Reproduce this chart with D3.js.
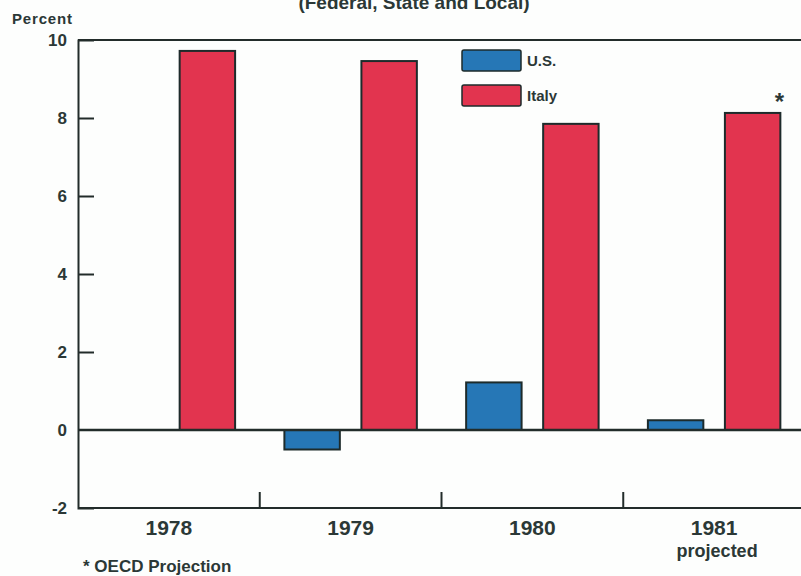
<!DOCTYPE html>
<html>
<head>
<meta charset="utf-8">
<script src="https://cdn.jsdelivr.net/npm/d3@7"></script>
<style>
  body { margin: 0; background: #fdfefd; }
  svg { display: block; }
  .tick-label { font-family: "Liberation Sans", Arial, sans-serif; font-weight: bold; fill: #2b3836; }
  .narrow { font-family: "Liberation Sans Narrow", "Liberation Sans", sans-serif; font-weight: bold; fill: #2b3836; }
</style>
</head>
<body>
<script>
// data
var years = ["1978", "1979", "1980", "1981"];
var seriesNames = ["U.S.", "Italy"];
var usValues = [null, -0.5, 1.22, 0.25];
var italyValues = [9.72, 9.46, 7.85, 8.13];
var yTicks = [-2, 0, 2, 4, 6, 8, 10];
var colors = ["#2677b6", "#e2344f"];

var width = 801,
    height = 576,
    margin = {top: 40, right: -4, bottom: 68, left: 78};

var svg = d3.select("body").append("svg")
    .attr("width", width)
    .attr("height", height);

var x0 = d3.scaleBand()
    .domain(years)
    .range([margin.left, width - margin.right]);

var x1 = d3.scaleBand()
    .domain(seriesNames)
    .range([0, x0.bandwidth()])
    .paddingInner(0.28)
    .paddingOuter(0.32);

var y = d3.scaleLinear()
    .domain([-2, 10])
    .range([height - margin.bottom, margin.top]);

var rows = years.map(function(yr, i) {
  return {year: yr, values: [usValues[i], italyValues[i]]};
});

// title, cut off at the top of the picture
svg.append("text")
    .attr("class", "tick-label")
    .attr("x", 414)
    .attr("y", 9)
    .attr("text-anchor", "middle")
    .style("font-size", "19px")
    .text("(Federal, State and Local)");

svg.append("text")
    .attr("class", "tick-label")
    .attr("x", 12)
    .attr("y", 24)
    .style("font-size", "15px")
    .attr("textLength", 60)
    .text("Percent");

// frame: top and bottom
var frame = svg.append("g")
    .style("stroke", "#222c2a")
    .style("stroke-width", 2);
frame.append("line")
    .attr("x1", margin.left).attr("x2", width)
    .attr("y1", y(10)).attr("y2", y(10));
frame.append("line")
    .attr("x1", margin.left).attr("x2", width)
    .attr("y1", y(-2)).attr("y2", y(-2));

// bars
var groups = svg.selectAll(".year")
    .data(rows)
  .enter().append("g")
    .attr("class", "year")
    .attr("transform", function(d) { return "translate(" + x0(d.year) + ",0)"; });

groups.selectAll("rect")
    .data(function(d) {
      return d.values.map(function(v, i) { return {key: seriesNames[i], value: v, i: i}; })
          .filter(function(e) { return e.value != null; });
    })
  .enter().append("rect")
    .attr("x", function(d) { return x1(d.key); })
    .attr("width", x1.bandwidth())
    .attr("y", function(d) { return y(Math.max(0, d.value)); })
    .attr("height", function(d) { return Math.abs(y(d.value) - y(0)); })
    .style("fill", function(d) { return colors[d.i]; })
    .style("stroke", "#1d2b2b")
    .style("stroke-width", 2);

// zero line
svg.append("line")
    .attr("x1", margin.left).attr("x2", width)
    .attr("y1", y(0)).attr("y2", y(0))
    .style("stroke", "#222c2a")
    .style("stroke-width", 2.5);

// y axis with short inner ticks
var yAxis = svg.append("g")
    .attr("transform", "translate(" + margin.left + ",0)")
    .call(d3.axisRight(y).tickValues(yTicks).tickSize(16).tickFormat(""));
yAxis.select(".domain").style("stroke", "#222c2a").style("stroke-width", 2);
yAxis.selectAll(".tick line")
    .style("stroke", "#222c2a")
    .style("stroke-width", 2)
    .style("display", function(d) { return (d === 0 || d === 10 || d === -2) ? "none" : null; });

svg.selectAll(".ylab")
    .data(yTicks)
  .enter().append("text")
    .attr("class", "tick-label")
    .attr("x", 67)
    .attr("y", function(d) { return y(d) + 6; })
    .attr("text-anchor", "end")
    .style("font-size", "17px")
    .text(function(d) { return d; });

// x axis: separators between the years, pointing up
var sep = years.slice(1);
svg.selectAll(".sep")
    .data(sep)
  .enter().append("line")
    .attr("x1", function(d) { return x0(d); })
    .attr("x2", function(d) { return x0(d); })
    .attr("y1", y(-2))
    .attr("y2", y(-2) - 16)
    .style("stroke", "#222c2a")
    .style("stroke-width", 2);

svg.selectAll(".xlab")
    .data(years)
  .enter().append("text")
    .attr("class", "narrow")
    .attr("x", function(d) { return x0(d) + x0.bandwidth() / 2; })
    .attr("y", 535)
    .attr("text-anchor", "middle")
    .style("font-size", "21px")
    .text(function(d) { return d; });

svg.append("text")
    .attr("class", "narrow")
    .attr("x", x0("1981") + x0.bandwidth() / 2 + 3)
    .attr("y", 557)
    .attr("text-anchor", "middle")
    .style("font-size", "18px")
    .text("projected");

svg.append("text")
    .attr("class", "narrow")
    .attr("x", 83)
    .attr("y", 572)
    .style("font-size", "17px")
    .text("* OECD Projection");

// asterisk above the projected Italy bar
svg.append("text")
    .attr("class", "tick-label")
    .attr("x", x0("1981") + x1("Italy") + x1.bandwidth() - 1)
    .attr("y", 110)
    .attr("text-anchor", "middle")
    .style("font-size", "24px")
    .text("*");

// legend
var legend = svg.selectAll(".legend")
    .data(seriesNames)
  .enter().append("g")
    .attr("class", "legend")
    .attr("transform", function(d, i) { return "translate(462," + (50 + i * 35) + ")"; });
legend.append("rect")
    .attr("width", 59)
    .attr("height", 21)
    .attr("rx", 2)
    .style("fill", function(d, i) { return colors[i]; })
    .style("stroke", "#1d2b2b")
    .style("stroke-width", 1.5);
legend.append("text")
    .attr("class", "tick-label")
    .attr("x", 65)
    .attr("y", 16)
    .style("font-size", "15px")
    .text(function(d) { return d; });
</script>
</body>
</html>
